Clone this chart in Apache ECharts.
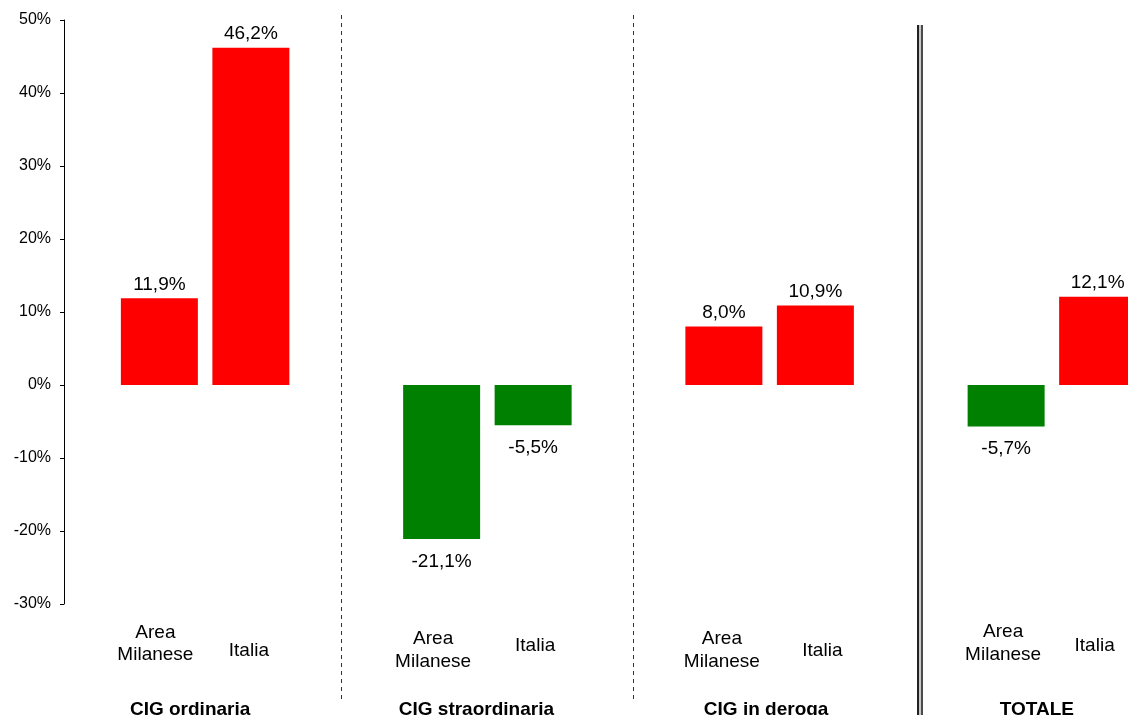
<!DOCTYPE html>
<html>
<head>
<meta charset="utf-8">
<script src="https://cdn.jsdelivr.net/npm/echarts@6/dist/echarts.min.js"></script>
<style>
  html, body { margin: 0; padding: 0; background: #fff; }
  #chart { width: 1128px; height: 715px; }
</style>
</head>
<body>
<div id="chart"></div>
<script>
// Variazione percentuale delle ore di CIG autorizzate
const categories = ['CIG ordinaria', 'CIG straordinaria', 'CIG in deroga', 'TOTALE'];
const seriesNames = ['Area\nMilanese', 'Italia'];
const areaMilanese = [11.9, -21.1, 8.0, -5.7];
const italia = [46.2, -5.5, 10.9, 12.1];
const yMin = -30, yMax = 50, yStep = 10;

// Layout tweaks for the labels below the bars (pixels)
const BAR_W = 77, BAR_GAP = 14.5;
const subLabelShift = [ // [dx Area, dy Area, dx Italia, dy Italia]
  [-4, 40, -2, 47],
  [-8.5, 46.5, 2, 42],
  [-2, 46.5, 7, 47],
  [-3, 39.5, -3, 42]
];
const groupLabelShift = [-15, -11, -3.5, -15];
const GROUP_DY = 106;

const FONT = '"Liberation Sans", Arial, sans-serif';
const fmt = v => v.toFixed(1).replace('.', ',') + '%';

function barData(values) {
  return values.map(v => ({
    value: v,
    itemStyle: { color: v < 0 ? '#008000' : '#FF0000' },
    label: { position: v < 0 ? 'bottom' : 'top', distance: v < 0 ? 13 : 4 }
  }));
}

const barLabel = {
  show: true,
  formatter: p => fmt(p.value),
  fontFamily: FONT,
  fontSize: 19,
  color: '#000'
};

const chart = echarts.init(document.getElementById('chart'), null, { renderer: 'canvas' });

chart.setOption({
  animation: false,
  backgroundColor: '#fff',
  grid: { left: 64, top: 20, width: 1129, height: 584, containLabel: false, outerBoundsMode: 'none' },
  xAxis: {
    type: 'category',
    data: categories,
    axisLine: { show: false },
    axisTick: { show: false },
    axisLabel: { show: false },
    splitLine: { show: false }
  },
  yAxis: {
    type: 'value',
    min: yMin,
    max: yMax,
    interval: yStep,
    axisLine: { show: true, lineStyle: { color: '#000', width: 1 } },
    axisTick: { show: true, inside: false, length: 4, lineStyle: { color: '#000' } },
    axisLabel: {
      formatter: v => v + '%',
      fontFamily: FONT,
      fontSize: 16,
      color: '#000',
      margin: 13
    },
    splitLine: { show: false }
  },
  series: [
    {
      name: 'Area Milanese',
      type: 'bar',
      data: barData(areaMilanese),
      barWidth: BAR_W,
      barGap: (BAR_GAP / BAR_W * 100) + '%',
      label: barLabel
    },
    {
      name: 'Italia',
      type: 'bar',
      data: barData(italia),
      barWidth: BAR_W,
      barGap: (BAR_GAP / BAR_W * 100) + '%',
      label: barLabel
    },
    {
      // series names under each bar and the group title below them
      type: 'custom',
      silent: true,
      clip: false,
      data: categories.map((c, i) => [i, yMin]),
      encode: { x: 0, y: 1 },
      renderItem: function (params, api) {
        const i = api.value(0);
        const base = api.coord([i, yMin]);
        const half = (BAR_W + BAR_GAP) / 2;
        const s = subLabelShift[i];
        const txt = (text, x, y, bold) => ({
          type: 'text',
          style: {
            text: text,
            x: x,
            y: y,
            align: 'center',
            verticalAlign: 'middle',
            font: (bold ? 'bold ' : '') + '19px ' + FONT,
            lineHeight: 22.5,
            fill: '#000'
          }
        });
        return {
          type: 'group',
          children: [
            txt(seriesNames[0], base[0] - half + s[0], base[1] + s[1], false),
            txt(seriesNames[1], base[0] + half + s[2], base[1] + s[3], false),
            txt(categories[i], base[0] + groupLabelShift[i], base[1] + GROUP_DY, true)
          ]
        };
      }
    }
  ],
  graphic: [
    // dashed separators between groups
    { type: 'line', shape: { x1: 341.5, y1: 15, x2: 341.5, y2: 702 },
      style: { stroke: '#333', lineWidth: 1, lineDash: [4, 4] }, silent: true },
    { type: 'line', shape: { x1: 633.5, y1: 15, x2: 633.5, y2: 702 },
      style: { stroke: '#333', lineWidth: 1, lineDash: [4, 4] }, silent: true },
    // double rule before the totals
    { type: 'rect', shape: { x: 917, y: 25, width: 6, height: 690 },
      style: { fill: '#c8c8c8' }, silent: true },
    { type: 'line', shape: { x1: 918, y1: 25, x2: 918, y2: 715 },
      style: { stroke: '#222', lineWidth: 2 }, silent: true },
    { type: 'line', shape: { x1: 922, y1: 25, x2: 922, y2: 715 },
      style: { stroke: '#222', lineWidth: 1.5 }, silent: true }
  ]
});
</script>
</body>
</html>
